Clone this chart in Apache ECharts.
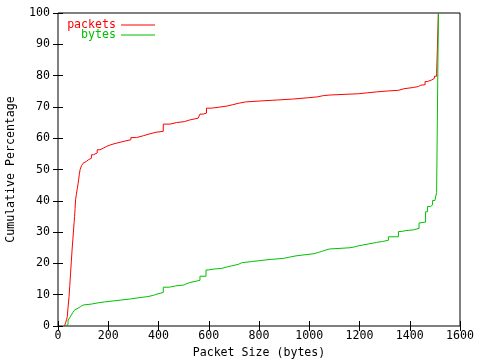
<!DOCTYPE html>
<html>
<head>
<meta charset="utf-8">
<script src="https://cdn.jsdelivr.net/npm/echarts@6/dist/echarts.min.js"></script>
<style>
html,body{margin:0;padding:0;background:#fff;}
#chart{width:480px;height:360px;}
</style>
</head>
<body>
<div id="chart"></div>
<script>
// ---- data (bytes, cumulative %) ----
var packetsX = [26,30,34,37,40,44,47,50,53,56,59,61,64,66,68,70,73,77,80,82,85,88,90,94,100,106,113,121,133,141,156,167,180,194,210,227,247,267,290,313,340,366,390,419,446,472,503,523,558,565,578,591,611,641,674,695,721,747,807,873,934,992,1032,1056,1083,1195,1231,1268,1315,1355,1377,1414,1434,1443,1461,1470,1487,1498,1507,1514];
var packetsY = [0,1,2,3,6,9.4,13,16.9,20.5,24.3,27.5,29.7,33,35,37.5,40.3,42,44,45.5,46.7,48.5,50,50.5,51.3,52,52.6,53.1,53.6,54.7,55.3,56.3,56.8,57.4,57.9,58.3,58.7,59.1,59.5,60.2,60.8,61.4,61.9,62.2,64.5,65,65.3,65.8,66.4,66.9,67.7,68,69.6,69.9,70.3,70.7,71.2,71.6,71.9,72.2,72.5,72.9,73.2,73.6,73.8,74.2,74.5,74.8,75.1,75.3,75.8,76.2,76.5,76.9,77.1,78.1,78.6,79.1,79.8,80.6,100];
var bytesX = [29,34,40,46,53,60,66,73,80,90,100,133,159,186,219,252,285,318,358,380,398,419,443,468,501,509,525,549,565,589,598,621,651,674,691,718,731,771,815,851,897,921,947,987,1019,1036,1049,1063,1080,1162,1182,1195,1215,1235,1268,1292,1315,1355,1368,1385,1414,1437,1443,1463,1471,1483,1491,1500,1507,1511,1514];
var bytesY = [0,0.5,1.9,2.6,3.5,4.4,5.1,5.7,6.2,6.7,7,7.4,7.7,8,8.3,8.6,9,9.4,9.8,10.3,10.7,12.4,12.8,13.1,13.4,13.9,14.3,14.6,15.9,17.9,18.2,18.4,18.9,19.2,19.7,20.2,20.6,21,21.3,21.6,22,22.4,22.8,23.1,23.5,23.8,24.2,24.6,25,25.3,25.6,25.9,26.2,26.7,27,27.4,28.5,30.2,30.5,30.7,31.2,32.9,33.2,36.5,38.2,38.7,40.1,40.5,42.7,42.9,100];
var seriesNames = ['packets', 'bytes'];
var xTitle = 'Packet Size (bytes)';
var yTitle = 'Cumulative Percentage';

function pairs(xs, ys){ return xs.map(function(x,i){ return [x, ys[i]]; }); }

var FONT = 'DejaVu Sans Mono';
var FS = 11.6;
var RED = '#ff0000', GREEN = '#00c000';

function tick(){ return {show:true, inside:true, length:5, lineStyle:{color:'#000', width:1}}; }

var chart = echarts.init(document.getElementById('chart'));
chart.setOption({
  animation:false,
  backgroundColor:'#fff',
  grid:{left:58, right:20, top:13, bottom:34, outerBoundsMode:'none', containLabel:false,
        show:true, borderColor:'#000', borderWidth:1, backgroundColor:'transparent'},
  legend:[
    {data:['packets'], orient:'vertical', right:325, top:19, padding:0, align:'right',
     icon:'rect', itemWidth:34, itemHeight:1, itemGap:0,
     textStyle:{color:RED, fontFamily:FONT, fontSize:FS}},
    {data:['bytes'], orient:'vertical', right:325, top:29, padding:0, align:'right',
     icon:'rect', itemWidth:34, itemHeight:1, itemGap:0,
     textStyle:{color:GREEN, fontFamily:FONT, fontSize:FS}}
  ],
  xAxis:[
    {type:'value', min:0, max:1600, interval:200,
      name:xTitle, nameLocation:'middle', nameGap:21, nameMoveOverlap:false,
      nameTextStyle:{color:'#000', fontFamily:FONT, fontSize:FS},
      axisLine:{show:false}, axisTick:tick(), splitLine:{show:false},
      axisLabel:{color:'#000', fontFamily:FONT, fontSize:FS, margin:4, hideOverlap:false,
        formatter:function(v){ return String(v); }}},
    {type:'value', min:0, max:1600, interval:200, position:'top',
      axisLine:{show:false}, axisTick:tick(), splitLine:{show:false},
      axisLabel:{show:false}}
  ],
  yAxis:[
    {type:'value', min:0, max:100, interval:10,
      name:yTitle, nameLocation:'middle', nameGap:41, nameMoveOverlap:false,
      nameTextStyle:{color:'#000', fontFamily:FONT, fontSize:FS},
      axisLine:{show:false}, axisTick:tick(), splitLine:{show:false},
      axisLabel:{color:'#000', fontFamily:FONT, fontSize:FS, margin:8, hideOverlap:false,
        formatter:function(v){ return String(v); }}},
    {type:'value', min:0, max:100, interval:10, position:'right',
      axisLine:{show:false}, axisTick:tick(), splitLine:{show:false},
      axisLabel:{show:false}}
  ],
  series:[
    {name:seriesNames[0], type:'line', step:'end', symbol:'none', data:pairs(packetsX, packetsY),
     lineStyle:{color:RED, width:1}, itemStyle:{color:RED}},
    {name:seriesNames[1], type:'line', step:'end', symbol:'none', data:pairs(bytesX, bytesY),
     lineStyle:{color:GREEN, width:1}, itemStyle:{color:GREEN}}
  ]
});
</script>
</body>
</html>
